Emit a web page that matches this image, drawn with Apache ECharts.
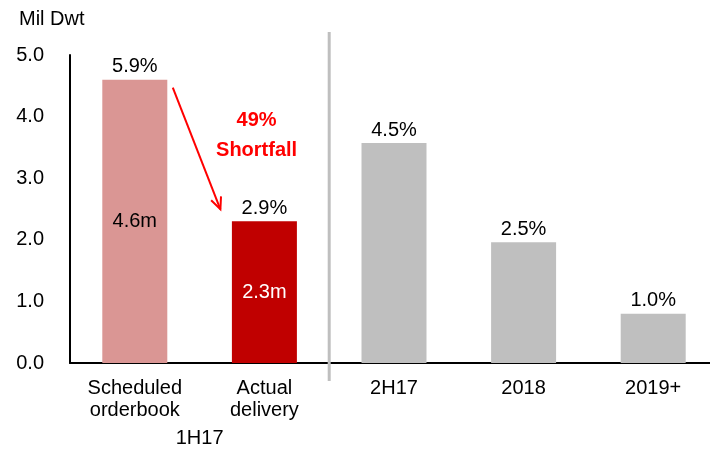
<!doctype html>
<html>
<head>
    <meta charset="utf-8">
    <title>Mil Dwt</title>
    <style>
        html, body { margin: 0; padding: 0; background: #fff; }
        #container { width: 710px; height: 450px; }
    </style>
</head>
<body>
<div id="container"></div>
<script type="text/javascript" src="https://cdn.jsdelivr.net/npm/echarts/dist/echarts.min.js"></script>
<script type="text/javascript">
    // data
    var categories = ['Scheduled\norderbook', 'Actual\ndelivery', '2H17', '2018', '2019+'];
    var values = [4.6, 2.3, 3.57, 1.96, 0.8];
    var pctLabels = ['5.9%', '2.9%', '4.5%', '2.5%', '1.0%'];
    var innerLabels = ['4.6m', '2.3m', '', '', ''];
    var yTicks = [0, 1, 2, 3, 4, 5];

    var barColors = ['#da9694', '#c00000', '#bfbfbf', '#bfbfbf', '#bfbfbf'];
    var innerColors = ['#000', '#fff', '#000', '#000', '#000'];
    var font = 'Liberation Sans, Arial, sans-serif';

    var myChart = echarts.init(document.getElementById('container'));

    var option = {
        animation: false,
        title: {
            text: 'Mil Dwt',
            left: 14, top: 4,
            textStyle: { fontFamily: font, fontSize: 20, fontWeight: 'normal', color: '#000' }
        },
        grid: { left: 70, top: 55, width: 648, height: 308, outerBoundsMode: 'none' },
        xAxis: {
            type: 'category',
            data: categories,
            axisLine: { lineStyle: { color: '#000', width: 2 } },
            axisTick: { show: false },
            axisLabel: { fontFamily: font, fontSize: 20, color: '#000', lineHeight: 22, margin: 14 }
        },
        yAxis: {
            type: 'value',
            min: yTicks[0],
            max: yTicks[yTicks.length - 1],
            interval: 1,
            splitLine: { show: false },
            axisLine: { show: true, lineStyle: { color: '#000', width: 2 } },
            axisLabel: {
                fontFamily: font, fontSize: 20, color: '#000', margin: 26,
                padding: [4, 0, 0, 0],
                formatter: function (v) { return v.toFixed(1); }
            }
        },
        series: [
            {
                type: 'bar',
                barWidth: 65,
                data: values.map(function (v, i) {
                    return { value: v, itemStyle: { color: barColors[i] } };
                }),
                label: {
                    show: true, position: 'top', distance: 3,
                    fontFamily: font, fontSize: 20, color: '#000',
                    formatter: function (p) { return pctLabels[p.dataIndex]; }
                }
            },
            {
                type: 'bar',
                barWidth: 65,
                barGap: '-100%',
                silent: true,
                data: values.map(function (v, i) {
                    return { value: v, label: { color: innerColors[i] } };
                }),
                itemStyle: { color: 'rgba(0,0,0,0)' },
                label: {
                    show: true, position: 'inside',
                    fontFamily: font, fontSize: 20,
                    formatter: function (p) { return innerLabels[p.dataIndex]; }
                }
            }
        ]
    };
    myChart.setOption(option);

    // annotations placed from the axes
    var c0 = myChart.convertToPixel({ gridIndex: 0 }, [0, values[0]]);
    var c1 = myChart.convertToPixel({ gridIndex: 0 }, [1, values[1]]);
    var c2 = myChart.convertToPixel({ gridIndex: 0 }, [2, 0]);
    var zero = myChart.convertToPixel({ gridIndex: 0 }, [0, 0]);
    var divX = (c1[0] + c2[0]) / 2;
    var x0 = c0[0] + 38, y0 = c0[1] + 8;
    var x1 = c1[0] - 44, y1 = c1[1] - 12;
    var ang = Math.atan2(y1 - y0, x1 - x0);
    var head = 13, spread = 0.42;

    myChart.setOption({
        graphic: [
            {
                type: 'line', z: 10,
                shape: { x1: divX, y1: 32, x2: divX, y2: zero[1] + 18 },
                style: { stroke: '#bfbfbf', lineWidth: 3 }
            },
            {
                type: 'line', z: 10,
                shape: { x1: x0, y1: y0, x2: x1, y2: y1 },
                style: { stroke: '#ff0000', lineWidth: 2 }
            },
            {
                type: 'polyline', z: 10,
                shape: { points: [
                    [x1 - head * Math.cos(ang - spread), y1 - head * Math.sin(ang - spread)],
                    [x1, y1],
                    [x1 - head * Math.cos(ang + spread), y1 - head * Math.sin(ang + spread)]
                ] },
                style: { stroke: '#ff0000', lineWidth: 2, fill: null }
            },
            {
                type: 'text', z: 10,
                x: (c0[0] + c1[0]) / 2 + 57, y: 135,
                style: {
                    text: '49%\nShortfall', fill: '#ff0000', lineHeight: 30,
                    font: 'bold 20px ' + font, align: 'center', verticalAlign: 'middle'
                }
            },
            {
                type: 'text', z: 10,
                x: (c0[0] + c1[0]) / 2, y: 438,
                style: {
                    text: '1H17', fill: '#000',
                    font: '20px ' + font, align: 'center', verticalAlign: 'middle'
                }
            }
        ]
    });
</script>
</body>
</html>
